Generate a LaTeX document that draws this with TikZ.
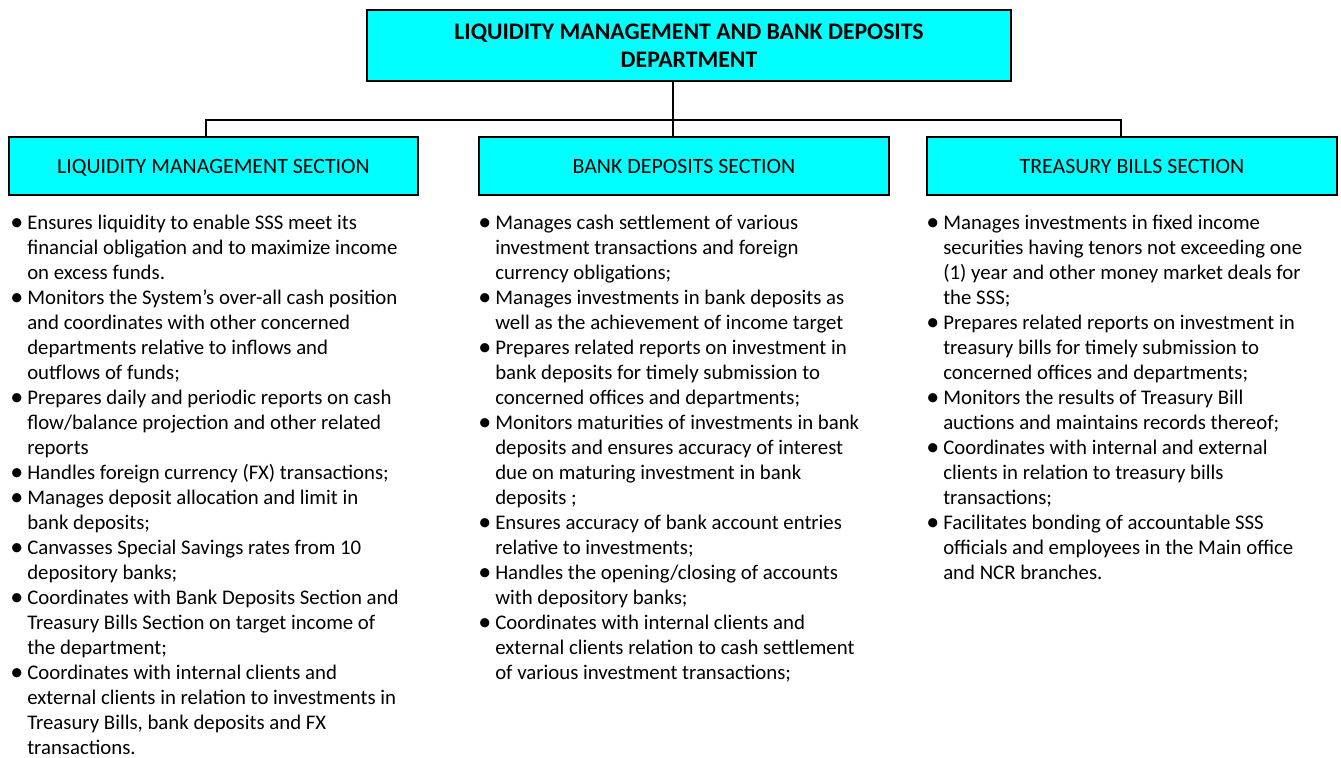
\documentclass[tikz,border=0pt]{standalone}
\usepackage{fontspec}
\usepackage{graphicx}
\setmainfont{Carlito}
\definecolor{boxcyan}{HTML}{00FFFF}
\newcommand{\bl}{\raisebox{-0.9pt}{\scalebox{1.25}{\textbullet}}}
\begin{document}
\begin{tikzpicture}[x=0.75pt,y=-0.75pt,
  box/.style={draw=black, line width=1.5pt, fill=boxcyan, inner sep=0pt, align=center},
  sect/.style={box, minimum width=410*0.75pt, minimum height=58*0.75pt,
    text height=11.6pt, text depth=0pt, font=\fontsize{16.4}{18.75}\selectfont},
  conn/.style={draw=black, line width=1.1pt},
  body/.style={anchor=base west, inner sep=0pt, font=\fontsize{15.6}{18.75}\selectfont}]
\useasboundingbox (0,0) rectangle (1341,757);
% top box
\node[box, minimum width=644*0.75pt, minimum height=71*0.75pt,
  font=\fontsize{17.8}{21}\selectfont\bfseries] (top) at (689,45.5)
  {LIQUIDITY MANAGEMENT AND BANK DEPOSITS\\DEPARTMENT};
% section boxes
\node[sect, minimum width=409*0.75pt] (lm) at (213.5,166) {LIQUIDITY MANAGEMENT SECTION};
\node[sect] (bd) at (684,166) {BANK DEPOSITS SECTION};
\node[sect] (tb) at (1132,166) {TREASURY BILLS SECTION};
% connectors
\coordinate (jc) at (673,120);
\coordinate (jl) at (206,120);
\coordinate (jr) at (1121,120);
\draw[conn] (top.south -| jc) -- (jc);
\draw[conn] (jl |- lm.north) -- (jl) -- (jr) -- (jr |- tb.north);
\draw[conn] (jc) -- (jc |- bd.north);
% texts
\node[body] (lmtext) at (10,229) {\begin{tabular}[t]{@{}p{12.75pt}@{}l@{}}
\bl & Ensures liquidity to enable SSS meet its\\
 & financial obligation and to maximize income\\
 & on excess funds.\\
\bl & Monitors the System’s over-all cash position\\
 & and coordinates with other concerned\\
 & departments relative to inflows and\\
 & outflows of funds;\\
\bl & Prepares daily and periodic reports on cash\\
 & flow/balance projection and other related\\
 & reports\\
\bl & Handles foreign currency (FX) transactions;\\
\bl & Manages deposit allocation and limit in\\
 & bank deposits;\\
\bl & Canvasses Special Savings rates from 10\\
 & depository banks;\\
\bl & Coordinates with Bank Deposits Section and\\
 & Treasury Bills Section on target income of\\
 & the department;\\
\bl & Coordinates with internal clients and\\
 & external clients in relation to investments in\\
 & Treasury Bills, bank deposits and FX\\
 & transactions.
\end{tabular}};
\node[body] (bdtext) at (478,229) {\begin{tabular}[t]{@{}p{12.75pt}@{}l@{}}
\bl & Manages cash settlement of various\\
 & investment transactions and foreign\\
 & currency obligations;\\
\bl & Manages investments in bank deposits as\\
 & well as the achievement of income target\\
\bl & Prepares related reports on investment in\\
 & bank deposits for timely submission to\\
 & concerned offices and departments;\\
\bl & Monitors maturities of investments in bank\\
 & deposits and ensures accuracy of interest\\
 & due on maturing investment in bank\\
 & deposits ;\\
\bl & Ensures accuracy of bank account entries\\
 & relative to investments;\\
\bl & Handles the opening/closing of accounts\\
 & with depository banks;\\
\bl & Coordinates with internal clients and\\
 & external clients relation to cash settlement\\
 & of various investment transactions;
\end{tabular}};
\node[body] (tbtext) at (926,229) {\begin{tabular}[t]{@{}p{12.75pt}@{}l@{}}
\bl & Manages investments in fixed income\\
 & securities having tenors not exceeding one\\
 & (1) year and other money market deals for\\
 & the SSS;\\
\bl & Prepares related reports on investment in\\
 & treasury bills for timely submission to\\
 & concerned offices and departments;\\
\bl & Monitors the results of Treasury Bill\\
 & auctions and maintains records thereof;\\
\bl & Coordinates with internal and external\\
 & clients in relation to treasury bills\\
 & transactions;\\
\bl & Facilitates bonding of accountable SSS\\
 & officials and employees in the Main office\\
 & and NCR branches.
\end{tabular}};
\end{tikzpicture}
\end{document}
